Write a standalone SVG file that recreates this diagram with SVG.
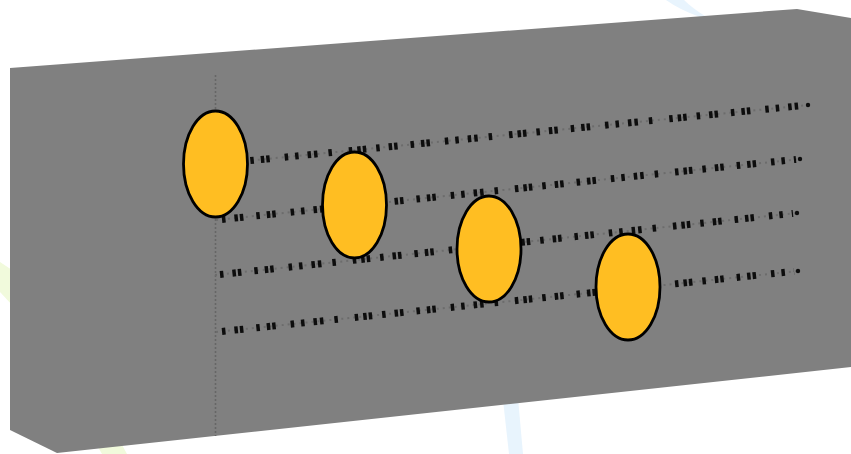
<svg xmlns="http://www.w3.org/2000/svg" width="851" height="454" viewBox="0 0 851 454">
  <style>
    .bgblue { fill: #e8f4fd; }
    .bggreen { fill: #f1fadc; }
    .box { fill: #808080; }
    .axis { stroke: #666666; stroke-width: 1.6; stroke-dasharray: 2 2; fill: none; }
    .dots { stroke: #6c6c6c; stroke-width: 2; stroke-dasharray: 2 4; fill: none; }
    .ticks { stroke: #0d0d0d; stroke-width: 7; fill: none; stroke-dasharray: 3.5 9 3.5 2 3.5 13 3.5 7 3.5 2 3.5 15 3.5 7 3.5 9 3.5 3 3.5 11 3.5 17 3.5 5 3.5 2 3.5 10; }
    .enddot { fill: #0d0d0d; }
    .node { fill: #ffbe22; stroke: #000; stroke-width: 2.8; }
  </style>
  <g id="background">
    <path class="bgblue" d="M666,0 L684,0 Q692,8 705,16 L700,17 Q680,10 666,0 Z"/>
    <path class="bgblue" d="M503,400 L518,398 L523,454 L509,454 Z"/>
    <path class="bggreen" d="M0,262 L12,270 L12,305 L0,292 Z"/>
    <path class="bggreen" d="M98,447 L121,443 L127,454 L102,454 Z"/>
  </g>
  <g id="block">
    <polygon class="box" points="10,68 797,9 851,18 851,367 57,453 10,430"/>
    <line class="axis" x1="215.5" y1="75" x2="215.5" y2="436"/>
  </g>
  <g id="connectors">
    <line class="dots" x1="216" y1="164" x2="808" y2="105"/>
    <line class="ticks" x1="216" y1="164" x2="804" y2="105.4"/>
    <circle class="enddot" cx="808" cy="105" r="2.2"/>
    <line class="dots" x1="216" y1="220" x2="800" y2="159"/>
    <line class="ticks" x1="222" y1="219.4" x2="796" y2="159.4"/>
    <circle class="enddot" cx="800" cy="159" r="2.2"/>
    <line class="dots" x1="215" y1="275" x2="797" y2="213"/>
    <line class="ticks" x1="220" y1="274.5" x2="793" y2="213.4"/>
    <circle class="enddot" cx="797" cy="213" r="2.2"/>
    <line class="dots" x1="216" y1="332" x2="798" y2="271"/>
    <line class="ticks" x1="222" y1="331.4" x2="794" y2="271.4"/>
    <circle class="enddot" cx="798" cy="271" r="2.2"/>
  </g>
  <g id="node1"><ellipse class="node" cx="215.5" cy="164" rx="32" ry="53"/></g>
  <g id="node2"><ellipse class="node" cx="354.5" cy="205" rx="32" ry="53"/></g>
  <g id="node3"><ellipse class="node" cx="489" cy="249" rx="32" ry="53"/></g>
  <g id="node4"><ellipse class="node" cx="628" cy="287" rx="32" ry="53"/></g>
</svg>
